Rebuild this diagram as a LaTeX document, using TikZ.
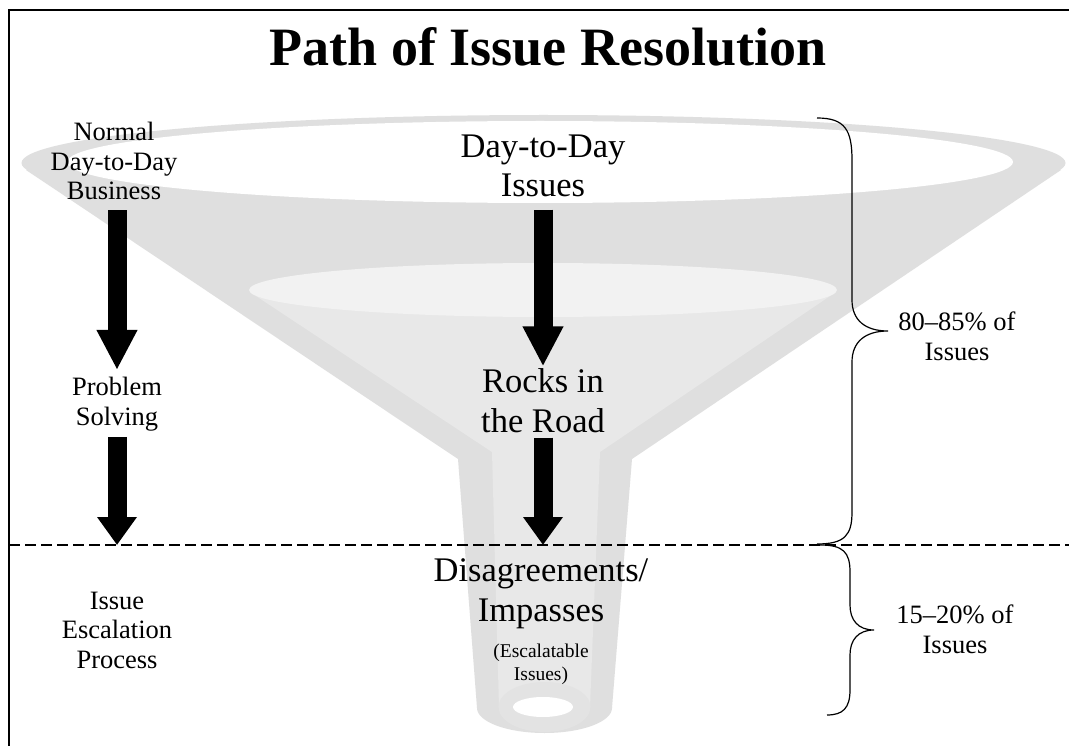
\documentclass[tikz,border=0pt]{standalone}
\usepackage{fontspec}
\setmainfont{Liberation Serif}
\usepackage{xcolor}
\definecolor{fnRim}{HTML}{DFDFDF}
\definecolor{fnInner}{HTML}{E8E8E8}
\definecolor{fnLip}{HTML}{F2F2F2}
\definecolor{fnFace}{HTML}{E3E3E3}
\usepackage{tikz}
\usetikzlibrary{positioning,arrows.meta,calc}

\begin{document}
\begin{tikzpicture}[x=1pt,y=-1pt,
      every node/.style={inner sep=0pt,align=center},
      headline/.style={font=\fontsize{54}{60}\selectfont\bfseries},
      side/.style={font=\fontsize{26.5}{29.5}\selectfont},
      core/.style={font=\fontsize{34.5}{39.5}\selectfont},
      aside/.style={font=\fontsize{19.5}{23}\selectfont},
      flow/.style={line width=19pt,-{Triangle[width=38pt,length=#1]}},
      flow/.default=40pt,
      brace/.style={line width=1.2pt,black},
      cut/.style={line width=1.2pt,dash pattern=on 11pt off 5pt},
    ]
    \fill[white] (0,0) rectangle (1069,746);
    \useasboundingbox (0,0) rectangle (1069,746);

    % Frame
    \draw[line width=2pt] (9,746) -- (9,10) -- (1069,10);

    % Funnel
    \fill[fnRim] (543.5,163) ellipse [x radius=522,y radius=48];
    \fill[fnRim] (26,170) -- (458,459) -- (477,708) -- (612,708) -- (632,459) -- (1061,170) -- cycle;
    \fill[fnRim] (544.5,708) ellipse [x radius=67.5,y radius=25];
    \fill[white] (540,162) ellipse [x radius=473,y radius=41];
    \fill[fnInner] (256,296) -- (492,452) -- (499,707) -- (590,707) -- (600,452) -- (830,296) -- cycle;
    \fill[fnLip] (543,290) ellipse [x radius=294,y radius=27];
    \fill[fnFace] (544.5,707) ellipse [x radius=46,y radius=25];
    \fill[white] (543,707) ellipse [x radius=30,y radius=10];

    % Cut line and braces
    \draw[cut] (9,545) -- (1069,545);
    \draw[brace] (817,118) .. controls (845,118) and (852,130) .. (852,160) -- (852,300)
      .. controls (852,320) and (865,331) .. (888,331) .. controls (865,331) and (852,342) .. (852,362)
      -- (852,512) .. controls (852,535) and (845,544) .. (817,544);
    \draw[brace] (820,545) .. controls (843,545) and (850,552) .. (850,572) -- (850,605)
      .. controls (850,620) and (858,630) .. (874,630) .. controls (858,630) and (850,640) .. (850,655)
      -- (850,690) .. controls (850,708) and (843,715) .. (827,715);

    % Node layout (base = last line)
    \node[headline,anchor=base] (title) at (548,66) {Path of Issue Resolution};
    \node[side,anchor=base] (normal) at (114,200) {Normal\\Day-to-Day\\Business};
    \node[side,anchor=base] (problem) at (117,425) {Problem\\Solving};
    \node[side,anchor=base] (escal) at (117,668) {Issue\\Escalation\\Process};
    \node[core,anchor=base] (daily) at (543,197) {Day-to-Day\\Issues};
    \node[core,anchor=base] (rocks) at (543,432) {Rocks in\\the Road};
    \node[core,anchor=base] (impasse) at (541,621) {Disagreements/\\Impasses};
    \node[aside,anchor=base] (escnote) at (541,680) {(Escalatable\\Issues)};
    \node[side,anchor=base] (upper) at (957,360) {80--85\% of\\Issues};
    \node[side,anchor=base] (lower) at (955,653) {15--20\% of\\Issues};
    \coordinate (lefthit) at (117,545);
    \coordinate (midhit) at (543,545);

    % Arrow connections
    \draw[flow,shorten <=10pt,shorten >=7pt] (normal.south -| problem.north) -- (problem.north);
    \draw[flow=28pt,shorten <=6pt] (problem.south) -- (lefthit);
    \draw[flow,shorten <=12pt,shorten >=2pt] (daily.south) -- (rocks.north);
    \draw[flow=28pt,shorten <=5pt] (rocks.south) -- (midhit);

\end{tikzpicture}
\end{document}
